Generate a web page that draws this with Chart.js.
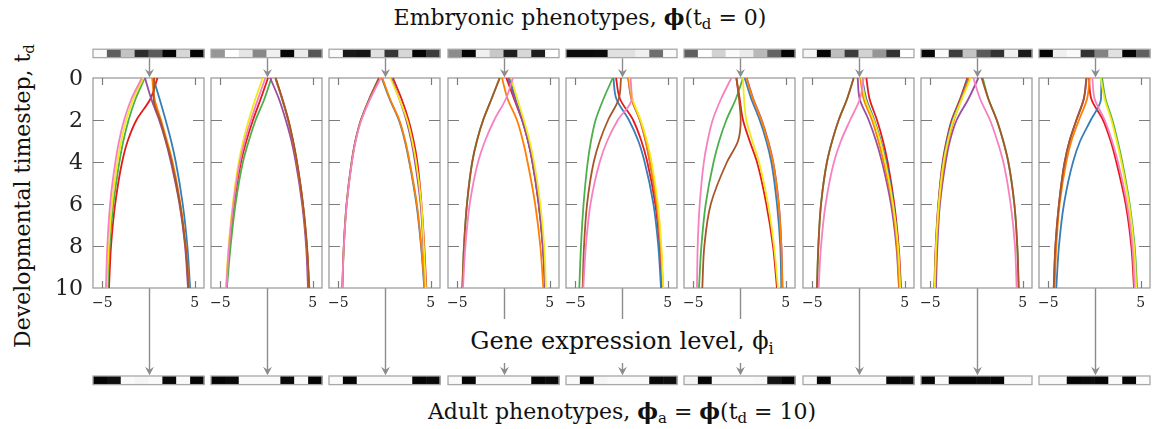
<!DOCTYPE html>
<html>
<head>
<meta charset="utf-8">
<script src="https://cdn.jsdelivr.net/npm/chart.js@4.4.1/dist/chart.umd.min.js"></script>
<style>
  body { margin: 0; background: #fff; }
  #fig { position: relative; width: 1156px; height: 429px; overflow: hidden; font-family: 'DejaVu Serif', serif; color: #111; }
  #fig canvas { position: absolute; top: 40px; }
  .lbl { position: absolute; white-space: nowrap; font-size: 22px; line-height: 1; transform: translate(-50%, -50%); }
  .sub { font-size: 0.68em; position: relative; top: 0.3em; }
</style>
</head>
<body>
<div id="fig">
  <div class="lbl" style="left:580px; top:17px">Embryonic phenotypes, <b>ϕ</b>(t<span class="sub">d</span> = 0)</div>
  <div class="lbl" style="left:622px; top:341px; font-size:24px; background:#fff; padding:10px 8px; z-index:2">Gene expression level, ϕ<span class="sub">i</span></div>
  <div class="lbl" style="left:622px; top:411px">Adult phenotypes, <b>ϕ</b><span class="sub">a</span> = <b>ϕ</b>(t<span class="sub">d</span> = 10)</div>
  <div class="lbl" style="left:23px; top:196px; transform: translate(-50%, -50%) rotate(-90deg)">Developmental timestep, t<span class="sub">d</span></div>
</div>
<script>
// timesteps at which the trajectories were read
const times = [0, 1, 2, 3, 4, 6, 8, 10];
// gene order: red, blue, green, purple, orange, yellow, brown, pink
const geneColors = ['#e41a1c', '#377eb8', '#4daf4a', '#984ea3', '#ff7f00', '#f2ea1c', '#a65628', '#f781bf'];
const xTicks = [-5, 5];
const yTicks = [0, 2, 4, 6, 8, 10];

// gene expression trajectories, one row per gene
const panel1 = [
    [0.97, 0.2, -1.3, -2.25, -2.85, -3.6, -4.05, -4.27],
    [0.52, 1.2, 1.85, 2.45, 2.95, 3.7, 4.2, 4.5],
    [-0.4, -1.4, -2.15, -2.72, -3.15, -3.8, -4.2, -4.42],
    [-0.38, 0.3, 1.15, 1.85, 2.42, 3.35, 3.95, 4.27],
    [0.4, 0.65, 1.35, 2.0, 2.6, 3.45, 4.03, 4.4],
    [-0.56, -1.64, -2.4, -2.95, -3.35, -3.95, -4.3, -4.5],
    [0.63, 0.55, 1.25, 1.9, 2.5, 3.4, 4.0, 4.34],
    [-0.72, -1.85, -2.63, -3.18, -3.58, -4.15, -4.45, -4.6]
];
const panel2 = [
    [0.16, -0.63, -1.46, -2.18, -2.76, -3.5, -4.0, -4.33],
    [0.95, 1.68, 2.33, 2.85, 3.27, 3.92, 4.35, 4.6],
    [0.53, -0.23, -1.17, -1.92, -2.55, -3.35, -3.88, -4.28],
    [0.4, 1.35, 2.08, 2.7, 3.16, 3.85, 4.28, 4.49],
    [0.97, 1.7, 2.35, 2.86, 3.28, 3.93, 4.36, 4.61],
    [-0.41, -1.2, -1.92, -2.52, -3.0, -3.65, -4.1, -4.38],
    [1.0, 1.72, 2.37, 2.88, 3.3, 3.95, 4.38, 4.63],
    [-0.12, -0.92, -1.68, -2.35, -2.88, -3.58, -4.05, -4.36]
];
const panel3 = [
    [0.92, 1.85, 2.6, 3.15, 3.55, 4.0, 4.3, 4.52],
    [-0.3, 0.55, 1.55, 2.2, 2.68, 3.45, 3.95, 4.3],
    [-0.6, -1.65, -2.55, -3.15, -3.55, -4.1, -4.4, -4.56],
    [0.74, 1.6, 2.35, 2.9, 3.3, 3.9, 4.2, 4.45],
    [-0.23, 0.6, 1.6, 2.25, 2.72, 3.5, 3.98, 4.34],
    [0.63, 1.6, 2.45, 3.0, 3.42, 3.98, 4.25, 4.47],
    [-0.59, -1.65, -2.55, -3.15, -3.55, -4.1, -4.4, -4.56],
    [-0.41, -1.55, -2.5, -3.12, -3.52, -4.08, -4.39, -4.56]
];
const panel4 = [
    [0.31, 1.15, 2.0, 2.65, 3.12, 3.8, 4.25, 4.5],
    [0.67, 1.3, 2.05, 2.68, 3.16, 3.83, 4.27, 4.52],
    [-0.41, -1.3, -2.2, -2.88, -3.38, -3.95, -4.27, -4.45],
    [0.49, 1.22, 2.02, 2.66, 3.14, 3.81, 4.26, 4.5],
    [-0.16, 0.45, 1.45, 2.1, 2.6, 3.42, 3.98, 4.31],
    [0.81, 1.5, 2.2, 2.82, 3.3, 3.98, 4.4, 4.59],
    [-0.41, -1.3, -2.2, -2.88, -3.38, -3.95, -4.27, -4.45],
    [1.03, 0.25, -1.0, -2.0, -2.75, -3.65, -4.12, -4.38]
];
const panel5 = [
    [-0.59, -0.16, 1.25, 2.15, 2.79, 3.65, 4.12, 4.38],
    [-0.88, -0.55, 0.8, 1.82, 2.5, 3.45, 3.98, 4.27],
    [-0.95, -1.95, -2.8, -3.3, -3.65, -4.1, -4.38, -4.56],
    [0.72, 1.08, 1.98, 2.6, 3.06, 3.78, 4.21, 4.47],
    [0.74, 1.1, 2.0, 2.62, 3.08, 3.8, 4.23, 4.49],
    [0.85, 1.2, 2.07, 2.75, 3.25, 3.93, 4.31, 4.52],
    [-0.05, -0.3, -1.45, -2.35, -3.0, -3.72, -4.05, -4.2],
    [0.99, 1.1, -0.4, -1.55, -2.35, -3.35, -3.85, -4.13]
];
const panel6 = [
    [-0.34, 0.02, 0.38, 1.1, 1.89, 2.9, 3.62, 4.05],
    [0.56, 1.28, 2.18, 2.9, 3.44, 4.05, 4.41, 4.52],
    [0.38, -0.4, -1.42, -2.2, -2.8, -3.65, -4.12, -4.38],
    [0.78, 1.5, 2.4, 3.1, 3.64, 4.25, 4.53, 4.65],
    [0.74, 1.46, 2.36, 3.05, 3.62, 4.23, 4.52, 4.63],
    [0.38, 0.49, 0.74, 1.39, 2.11, 3.08, 3.73, 4.16],
    [-0.34, -0.05, 0.13, -0.16, -1.35, -3.1, -3.8, -4.02],
    [-0.88, -2.0, -2.9, -3.45, -3.85, -4.3, -4.52, -4.6]
];
const panel7 = [
    [0.85, 1.2, 2.0, 2.65, 3.15, 3.87, 4.34, 4.6],
    [0.38, 0.85, 1.71, 2.42, 3.0, 3.78, 4.27, 4.52],
    [-0.52, -1.24, -2.14, -2.85, -3.41, -4.05, -4.34, -4.49],
    [-0.09, 0.13, 1.1, 1.9, 2.54, 3.51, 4.09, 4.38],
    [0.2, 0.56, 1.46, 2.15, 2.72, 3.66, 4.16, 4.41],
    [0.31, 0.74, 1.64, 2.35, 2.9, 3.73, 4.27, 4.52],
    [-0.52, -1.24, -2.14, -2.85, -3.41, -4.05, -4.34, -4.49],
    [0.56, 0.15, -0.9, -1.9, -2.65, -3.55, -4.05, -4.31]
];
const panel8 = [
    [-0.99, -1.78, -2.68, -3.25, -3.66, -4.13, -4.41, -4.56],
    [-0.9, -1.7, -2.6, -3.2, -3.6, -4.1, -4.38, -4.52],
    [0.67, 1.3, 2.2, 2.9, 3.44, 4.09, 4.41, 4.56],
    [0.2, -0.88, -2.14, -2.88, -3.33, -3.95, -4.23, -4.38],
    [-0.77, -1.62, -2.43, -3.05, -3.48, -4.03, -4.33, -4.5],
    [-0.63, -1.57, -2.5, -3.1, -3.55, -4.08, -4.37, -4.52],
    [0.56, 1.28, 2.18, 2.88, 3.44, 4.09, 4.41, 4.56],
    [-0.34, 0.4, 1.46, 2.25, 2.9, 3.69, 4.16, 4.34]
];
const panel9 = [
    [-0.59, -0.34, 0.92, 1.75, 2.36, 3.37, 3.98, 4.27],
    [0.74, 0.7, -0.4, -1.55, -2.32, -3.3, -3.84, -4.13],
    [0.81, 1.2, 1.93, 2.5, 3.0, 3.8, 4.34, 4.6],
    [-0.85, -1.15, -1.95, -2.7, -3.22, -3.84, -4.22, -4.4],
    [-0.52, -0.81, -1.68, -2.5, -3.05, -3.77, -4.13, -4.31],
    [0.67, 1.1, 1.82, 2.4, 2.9, 3.73, 4.27, 4.52],
    [-0.88, -1.17, -1.96, -2.7, -3.23, -3.84, -4.23, -4.41],
    [-0.23, 0.02, 1.1, 1.9, 2.54, 3.51, 4.09, 4.34]
];
const panels = [panel1, panel2, panel3, panel4, panel5, panel6, panel7, panel8, panel9];

// phenotype strips, grey level of each gene cell (0 = black, 255 = white)
const embryoShades = [
    [250, 95, 195, 45, 90, 5, 215, 5],
    [150, 255, 230, 135, 240, 5, 235, 85],
    [250, 25, 20, 225, 55, 215, 5, 60],
    [140, 5, 240, 200, 30, 215, 30, 255],
    [10, 10, 12, 225, 225, 240, 110, 250],
    [95, 255, 210, 250, 235, 185, 100, 5],
    [245, 5, 190, 60, 210, 150, 50, 255],
    [5, 250, 60, 195, 90, 50, 240, 25],
    [5, 240, 250, 50, 130, 225, 5, 95]
];
const adultShades = [
    [5, 15, 250, 245, 250, 10, 250, 5],
    [5, 10, 250, 250, 250, 10, 250, 5],
    [250, 5, 250, 250, 250, 250, 5, 10],
    [250, 5, 250, 250, 250, 250, 5, 10],
    [250, 5, 245, 250, 250, 250, 10, 15],
    [245, 5, 250, 250, 250, 248, 20, 5],
    [250, 5, 250, 250, 250, 250, 5, 10],
    [5, 250, 5, 5, 10, 5, 250, 250],
    [250, 250, 5, 10, 5, 250, 5, 250]
];

// layout (pixels)
const PANEL_X0 = 92.7, PANEL_STEP = 118.33, PANEL_W = 111;
const CANVAS_TOP = 40, CANVAS_H = 360, PANEL_TOP = 78, PX_PER_T = 21;
const yMin = -(PANEL_TOP - CANVAS_TOP) / PX_PER_T;
const yMax = yMin + CANVAS_H / PX_PER_T;
// strip positions in timestep units
const TOP_STRIP = [-1.37, -0.97];
const BOT_STRIP = [14.19, 14.6];

const GREY = '#8c8c8c';

function drawStrip(ctx, xs, ys, shades, span) {
    const y0 = ys.getPixelForValue(span[0]), y1 = ys.getPixelForValue(span[1]);
    const n = shades.length;
    shades.forEach((g, k) => {
        const a = xs.getPixelForValue(-6 + k * 12 / n);
        const b = xs.getPixelForValue(-6 + (k + 1) * 12 / n);
        ctx.fillStyle = `rgb(${g},${g},${g})`;
        ctx.fillRect(a, y0, b - a + 0.4, y1 - y0);
    });
    const L = xs.getPixelForValue(-6), R = xs.getPixelForValue(6);
    ctx.strokeStyle = '#a8a8a8';
    ctx.lineWidth = 1.3;
    ctx.strokeRect(L, y0, R - L, y1 - y0);
}

function drawArrow(ctx, x, yA, yB) {
    ctx.strokeStyle = GREY;
    ctx.lineWidth = 1.4;
    ctx.beginPath();
    ctx.moveTo(x, yA);
    ctx.lineTo(x, yB - 4);
    ctx.stroke();
    ctx.fillStyle = GREY;
    ctx.beginPath();
    ctx.moveTo(x, yB);
    ctx.lineTo(x - 4.5, yB - 8.5);
    ctx.lineTo(x, yB - 5.5);
    ctx.lineTo(x + 4.5, yB - 8.5);
    ctx.closePath();
    ctx.fill();
}

const panelDecor = {
    id: 'panelDecor',
    beforeDatasetsDraw(chart, args, opts) {
        const ctx = chart.ctx;
        const xs = chart.scales.x, ys = chart.scales.y;
        const i = opts.panel;
        const L = xs.getPixelForValue(-6), R = xs.getPixelForValue(6);
        const T0 = ys.getPixelForValue(0), T10 = ys.getPixelForValue(10);
        const xc = Math.round(xs.getPixelForValue(0)) + 0.5;
        ctx.save();

        drawStrip(ctx, xs, ys, embryoShades[i], TOP_STRIP);
        drawStrip(ctx, xs, ys, adultShades[i], BOT_STRIP);
        drawArrow(ctx, xc, ys.getPixelForValue(TOP_STRIP[1]) + 0.7, T0 - 0.5);
        drawArrow(ctx, xc, T10, ys.getPixelForValue(BOT_STRIP[0]) - 0.7);

        // frame
        ctx.strokeStyle = '#9e9e9e';
        ctx.lineWidth = 1.3;
        ctx.strokeRect(L, T0, R - L, T10 - T0);

        // inward ticks
        ctx.strokeStyle = '#7c7c7c';
        ctx.lineWidth = 1.2;
        ctx.beginPath();
        yTicks.filter(t => t > 0 && t < 10).forEach(t => {
            const y = Math.round(ys.getPixelForValue(t)) + 0.5;
            ctx.moveTo(L, y); ctx.lineTo(L + 11, y);
            ctx.moveTo(R - 11, y); ctx.lineTo(R, y);
        });
        xTicks.forEach(v => {
            const x = Math.round(xs.getPixelForValue(v)) + 0.5;
            ctx.moveTo(x, T0); ctx.lineTo(x, T0 + 7);
            ctx.moveTo(x, T10 - 7); ctx.lineTo(x, T10);
        });
        ctx.stroke();

        // tick labels
        ctx.fillStyle = '#222';
        ctx.textAlign = 'center';
        ctx.textBaseline = 'middle';
        ctx.font = '14px "DejaVu Serif"';
        xTicks.forEach(v => {
            ctx.fillText(v < 0 ? '\u2212' + Math.abs(v) : String(v), xs.getPixelForValue(v), T10 + 15);
        });
        if (i === 0) {
            ctx.textAlign = 'right';
            ctx.font = '22px "DejaVu Serif"';
            yTicks.forEach(t => ctx.fillText(String(t), L - 10, ys.getPixelForValue(t) + 1));
        }
        ctx.restore();
    }
};

const fig = document.getElementById('fig');

panels.forEach((panel, i) => {
    const left = Math.round(PANEL_X0 + i * PANEL_STEP);
    const padL = i === 0 ? 60 : 8, padR = 8;
    const canvas = document.createElement('canvas');
    canvas.width = padL + PANEL_W + padR;
    canvas.height = CANVAS_H;
    canvas.style.left = (left - padL) + 'px';
    canvas.style.top = CANVAS_TOP + 'px';
    fig.appendChild(canvas);

    new Chart(canvas.getContext('2d'), {
        type: 'line',
        data: {
            datasets: panel.map((row, g) => ({
                data: row.map((v, k) => ({ x: v, y: times[k] })),
                borderColor: geneColors[g],
                borderWidth: 1.8,
                pointRadius: 0,
                cubicInterpolationMode: 'monotone',
                indexAxis: 'y',
                // later genes are painted on top (pink last)
                order: panel.length - 1 - g,
                fill: false
            }))
        },
        options: {
            indexAxis: 'y',
            responsive: false,
            animation: false,
            events: [],
            layout: { padding: { left: padL, right: padR, top: 0, bottom: 0 } },
            scales: {
                x: { type: 'linear', min: -6, max: 6, display: false },
                y: { type: 'linear', min: yMin, max: yMax, reverse: true, display: false }
            },
            plugins: {
                legend: { display: false },
                tooltip: { enabled: false },
                panelDecor: { panel: i }
            }
        },
        plugins: [panelDecor]
    });
});
</script>
</body>
</html>
